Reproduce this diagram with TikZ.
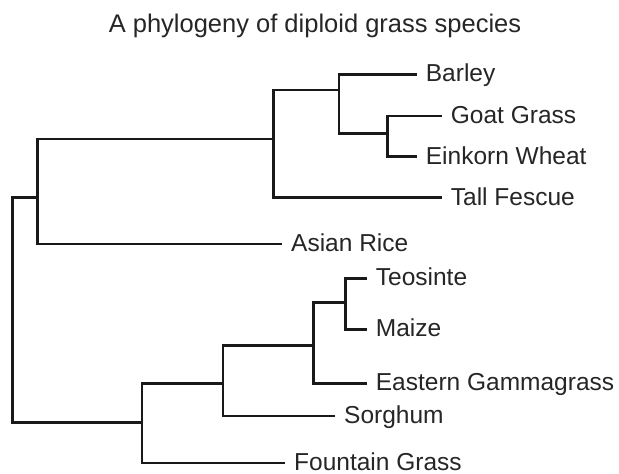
\documentclass[tikz,border=0pt]{standalone}
\usepackage{fontspec}
\setmainfont{Liberation Sans}
\begin{document}
\begin{tikzpicture}[x=1pt,y=-1pt,
  branch/.style={line width=2.9pt, draw=black!90, line join=miter, line cap=butt},
  leaf/.style={anchor=west, inner xsep=9pt, inner ysep=0pt, text height=14.8pt, text depth=0pt,
    font=\fontsize{24.5}{29}\selectfont, text=black!85},
  ]
\useasboundingbox (0,0) rectangle (619,474);
\fill[white] (0,0) rectangle (619,474);
\node[font=\fontsize{25.5}{30}\selectfont, text=black!85, anchor=base, inner sep=0pt] (title) at (315,32.3) {A phylogeny of diploid grass species};

% leaves (positioned at the end of their branch)
\node[leaf] (barley)   at (416.7,74.3)  {Barley};
\node[leaf] (goat)     at (441.7,116)   {Goat Grass};
\node[leaf] (einkorn)  at (416.7,156.7) {Einkorn Wheat};
\node[leaf] (tall)     at (441.7,197.7) {Tall Fescue};
\node[leaf] (asian)    at (282,244)     {Asian Rice};
\node[leaf] (teosinte) at (366.7,278.3) {Teosinte};
\node[leaf] (maize)    at (366.7,329.3) {Maize};
\node[leaf] (eastern)  at (366.7,383.3) {Eastern Gammagrass};
\node[leaf] (sorghum)  at (335,416)     {Sorghum};
\node[leaf] (fountain) at (285,463)     {Fountain Grass};

% internal nodes
\coordinate (G) at (387.3,133.3);
\coordinate (B) at (339,90);
\coordinate (A) at (273.3,139);
\coordinate (T) at (37.7,197.3);
\coordinate (R) at (12.5,197.3);
\coordinate (C) at (142,422.7);
\coordinate (D) at (223,383.3);
\coordinate (E) at (313.3,345.7);
\coordinate (F) at (345.7,302.7);

% branches
\draw[branch] (goat.west) -| (G) |- (einkorn.west);
\draw[branch] (barley.west) -| (B) |- (G);
\draw[branch] (B) -| (A) |- (tall.west);
\draw[branch] (A) -| (T) |- (asian.west);
\draw[branch] (T) -- (R) |- (C);
\draw[branch] (D) -| (C) |- (fountain.west);
\draw[branch] (E) -| (D) |- (sorghum.west);
\draw[branch] (F) -| (E) |- (eastern.west);
\draw[branch] (teosinte.west) -| (F) |- (maize.west);
\end{tikzpicture}
\end{document}
